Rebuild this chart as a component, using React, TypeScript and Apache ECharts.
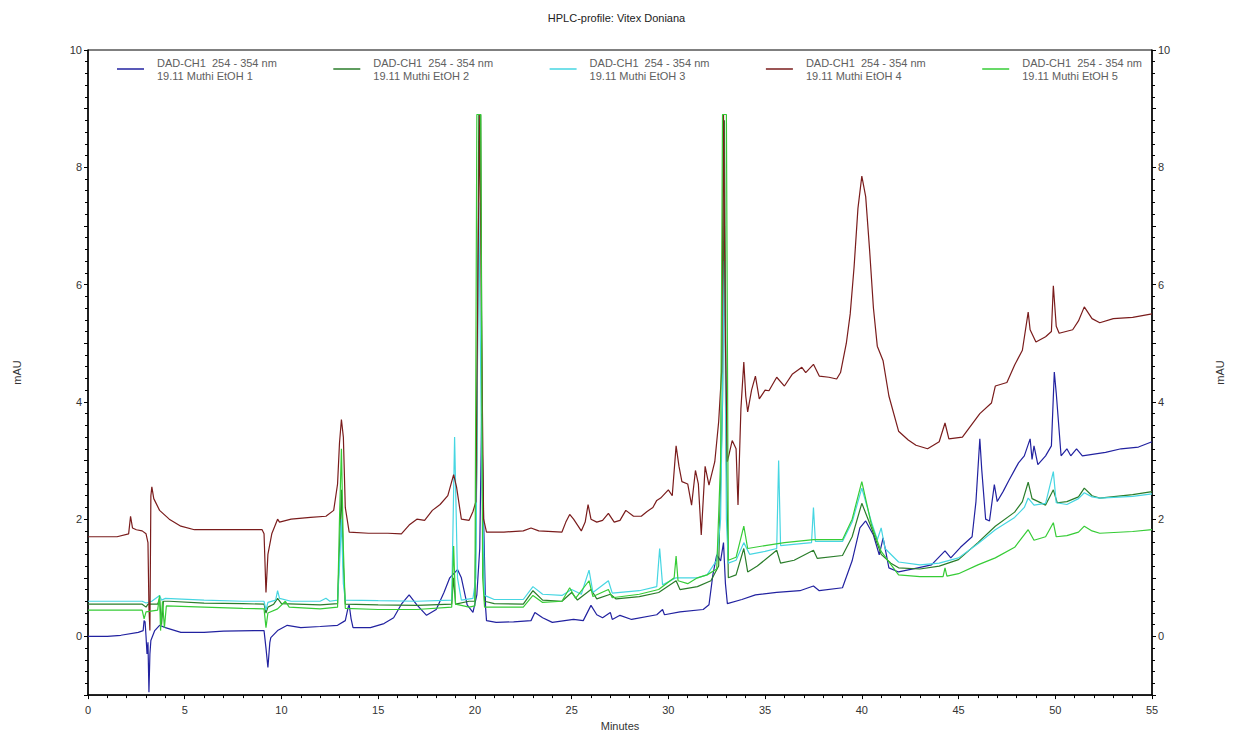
import React, { useEffect, useRef } from "react";
import * as echarts from "echarts";

const TITLE = "HPLC-profile: Vitex Doniana";
const LEGEND_LINE1 = "DAD-CH1  254 - 354 nm";
const seriesNames = [
  "19.11 Muthi EtOH 1",
  "19.11 Muthi EtOH 2",
  "19.11 Muthi EtOH 3",
  "19.11 Muthi EtOH 4",
  "19.11 Muthi EtOH 5",
];
const seriesColors = ["#2222a0", "#2a7d2a", "#46d6e2", "#7a1c1c", "#36cc36"];
const xTicks = [0, 5, 10, 15, 20, 25, 30, 35, 40, 45, 50, 55];
const yTicks = [0, 2, 4, 6, 8, 10];

// [minutes, mAU]
const ethanol1: [number, number][] = [
  [0, 0.0], [1.0, 0.0], [1.7, 0.02], [2.6, 0.07], [2.85, 0.1], [2.9, 0.27], [2.95, 0.25], [3.0, 0.0], [3.05, -0.3], [3.1, -0.1],
  [3.15, -0.95], [3.2, -0.3], [3.25, -0.07], [3.45, 0.1], [3.7, 0.19], [4.0, 0.15], [4.8, 0.07], [6.0, 0.07], [7.0, 0.09], [8.6, 0.1],
  [9.1, 0.1], [9.2, -0.2], [9.3, -0.53], [9.4, -0.1], [9.45, -0.02], [9.8, 0.1], [10.3, 0.19], [11.0, 0.15], [12.0, 0.17], [12.9, 0.19],
  [13.3, 0.27], [13.45, 0.5], [13.5, 0.54], [13.6, 0.3], [13.7, 0.15], [14.6, 0.15], [15.3, 0.22], [15.8, 0.32], [16.2, 0.55], [16.6, 0.71],
  [17.0, 0.54], [17.5, 0.36], [18.0, 0.46], [18.4, 0.75], [18.7, 1.0], [19.1, 1.14], [19.3, 1.0], [19.6, 0.54], [19.9, 0.41], [20.1, 0.71],
  [20.25, 1.5], [20.35, 3.8], [20.45, 2.0], [20.55, 0.5], [20.6, 0.27], [21.1, 0.24], [22.0, 0.25], [22.9, 0.27], [23.1, 0.41], [23.5, 0.32],
  [24.0, 0.24], [25.1, 0.29], [25.6, 0.27], [26.0, 0.53], [26.3, 0.37], [26.6, 0.32], [27.0, 0.41], [27.1, 0.29], [27.5, 0.36], [28.1, 0.29],
  [29.4, 0.37], [29.7, 0.46], [29.8, 0.37], [30.6, 0.42], [31.8, 0.46], [32.1, 0.54], [32.3, 1.05], [32.5, 1.39], [32.7, 1.29], [32.85, 1.6],
  [32.95, 0.9], [33.05, 0.56], [33.8, 0.63], [34.5, 0.71], [35.6, 0.75], [36.8, 0.78], [37.5, 0.86], [37.8, 0.78], [39.0, 0.83], [39.5, 1.29],
  [39.9, 1.85], [40.2, 1.97], [40.6, 1.73], [40.9, 1.39], [41.1, 1.68], [41.4, 1.17], [41.9, 1.1], [42.9, 1.17], [43.6, 1.22], [44.3, 1.46],
  [44.6, 1.34], [45.1, 1.52], [45.7, 1.7], [45.9, 2.3], [46.1, 3.37], [46.2, 2.84], [46.4, 2.0], [46.6, 1.97], [46.85, 2.59], [47.0, 2.3],
  [47.3, 2.47], [47.6, 2.66], [47.9, 2.84], [48.1, 2.96], [48.4, 3.08], [48.7, 3.37], [48.8, 3.02], [48.9, 3.25], [49.1, 2.93], [49.5, 3.08],
  [49.8, 3.25], [49.95, 4.51], [50.05, 4.15], [50.3, 3.08], [50.6, 3.2], [50.8, 3.08], [51.1, 3.2], [51.4, 3.08], [52.6, 3.14], [53.4, 3.2],
  [54.3, 3.23], [55, 3.32],
];

const ethanol2: [number, number][] = [
  [0, 0.55], [2.8, 0.55], [3.0, 0.5], [3.1, 0.55], [3.6, 0.55], [3.7, 0.65], [3.8, 0.2], [3.9, 0.6], [4.2, 0.6], [6, 0.57],
  [8, 0.56], [9.1, 0.55], [9.2, 0.4], [9.3, 0.5], [9.6, 0.55], [9.8, 0.65], [10.0, 0.56], [12.0, 0.54], [12.9, 0.56], [13.0, 1.5],
  [13.1, 2.5], [13.2, 1.2], [13.3, 0.55], [15, 0.54], [17, 0.53], [18.8, 0.55], [18.9, 1.0], [19.0, 0.55], [19.7, 0.6], [20.0, 0.6],
  [20.1, 3.0], [20.2, 8.9], [20.3, 8.9], [20.4, 2.0], [20.5, 0.6], [21, 0.56], [22.5, 0.55], [23.0, 0.78], [23.5, 0.62], [24.5, 0.6],
  [25.0, 0.75], [25.3, 0.62], [26.0, 0.8], [26.3, 0.64], [27.0, 0.72], [27.3, 0.64], [28.5, 0.68], [29.5, 0.75], [30.4, 0.95], [30.6, 0.8],
  [31.5, 0.85], [32.2, 0.95], [32.6, 1.2], [32.8, 4.0], [32.9, 8.8], [33.0, 3.0], [33.1, 1.0], [33.5, 1.05], [33.9, 1.5], [34.1, 1.1],
  [34.6, 1.2], [35.6, 1.47], [35.8, 1.25], [36.5, 1.3], [37.5, 1.47], [37.7, 1.33], [39.0, 1.38], [39.5, 1.7], [40.0, 2.27], [40.5, 1.85],
  [41.0, 1.4], [41.5, 1.25], [41.9, 1.17], [43, 1.15], [44, 1.2], [45, 1.31], [46, 1.6], [46.9, 1.88], [47.9, 2.12], [48.3, 2.3],
  [48.6, 2.63], [48.8, 2.35], [49.5, 2.24], [49.9, 2.5], [50.1, 2.28], [50.6, 2.3], [51.2, 2.38], [51.5, 2.53], [51.9, 2.4], [52.3, 2.36],
  [54, 2.42], [55, 2.47],
];

const ethanol3: [number, number][] = [
  [0, 0.6], [2.8, 0.6], [3.0, 0.57], [3.3, 0.6], [3.7, 0.7], [3.8, 0.62], [4.0, 0.65], [6, 0.62], [8, 0.6], [9.1, 0.6],
  [9.2, 0.45], [9.3, 0.58], [9.7, 0.62], [9.8, 0.78], [9.9, 0.65], [10.5, 0.6], [12.0, 0.6], [12.3, 0.65], [12.5, 0.6], [12.9, 0.62],
  [13.0, 1.2], [13.1, 2.0], [13.2, 0.9], [13.3, 0.62], [15, 0.61], [17, 0.6], [18.8, 0.62], [18.95, 3.4], [19.1, 1.0], [19.3, 0.62],
  [19.9, 0.65], [20.05, 1.0], [20.2, 7.4], [20.35, 3.0], [20.5, 0.7], [21, 0.63], [22.5, 0.63], [23.0, 0.85], [23.5, 0.72], [24.5, 0.7],
  [25.0, 0.8], [25.5, 0.72], [25.9, 1.13], [26.1, 0.75], [26.9, 0.95], [27.1, 0.74], [28.5, 0.78], [29.4, 0.85], [29.55, 1.5], [29.7, 0.88],
  [30.4, 1.0], [31.5, 1.0], [32.0, 1.05], [32.5, 1.3], [32.7, 2.0], [32.9, 6.4], [33.0, 2.0], [33.1, 1.25], [33.5, 1.3], [33.9, 1.6],
  [34.2, 1.4], [35.0, 1.45], [35.6, 1.5], [35.7, 3.0], [35.8, 1.55], [37.4, 1.6], [37.5, 2.2], [37.6, 1.62], [39.0, 1.62], [39.5, 1.95],
  [40.0, 2.53], [40.5, 1.95], [40.8, 1.65], [41.0, 1.85], [41.2, 1.5], [41.9, 1.27], [43, 1.22], [44, 1.25], [45, 1.34], [46, 1.58],
  [46.9, 1.82], [47.9, 2.03], [48.4, 2.2], [48.6, 2.36], [48.9, 2.24], [49.5, 2.27], [49.9, 2.81], [50.05, 2.28], [50.6, 2.25], [51.2, 2.35],
  [51.5, 2.45], [51.9, 2.38], [52.3, 2.36], [54, 2.39], [55, 2.43],
];

const ethanol4: [number, number][] = [
  [0, 1.7], [1.5, 1.7], [2.1, 1.75], [2.2, 2.05], [2.3, 1.85], [2.5, 1.82], [2.8, 1.8], [3.0, 1.75], [3.1, 1.6], [3.15, 0.5],
  [3.2, 0.1], [3.25, 2.4], [3.3, 2.55], [3.4, 2.35], [3.7, 2.15], [4.2, 2.0], [4.8, 1.88], [5.5, 1.82], [6.5, 1.82], [8.0, 1.82],
  [9.0, 1.82], [9.1, 1.75], [9.2, 0.75], [9.3, 1.4], [9.5, 1.75], [9.8, 2.0], [9.9, 1.95], [10.5, 2.0], [11.5, 2.03], [12.3, 2.05],
  [12.7, 2.15], [12.9, 2.6], [13.0, 3.3], [13.1, 3.7], [13.2, 3.4], [13.3, 2.2], [13.5, 1.78], [14.5, 1.76], [15.5, 1.76], [16.2, 1.75],
  [16.6, 1.9], [17.0, 2.0], [17.4, 1.98], [17.8, 2.15], [18.2, 2.25], [18.6, 2.4], [18.9, 2.76], [19.05, 2.55], [19.3, 2.0], [19.7, 1.98],
  [19.9, 2.13], [20.05, 2.3], [20.15, 6.0], [20.25, 8.9], [20.35, 5.0], [20.45, 2.0], [20.6, 1.78], [21.5, 1.78], [22.5, 1.8], [22.9, 1.85],
  [23.3, 1.8], [24.5, 1.78], [24.7, 1.95], [24.9, 2.08], [25.1, 2.0], [25.5, 1.8], [25.7, 1.95], [25.85, 2.25], [26.0, 2.0], [26.3, 1.95],
  [26.6, 1.98], [26.9, 2.1], [27.2, 1.95], [27.5, 1.98], [27.8, 2.15], [28.2, 2.05], [28.6, 2.05], [28.9, 2.13], [29.2, 2.2], [29.4, 2.32],
  [29.6, 2.36], [30.0, 2.5], [30.2, 2.4], [30.4, 3.25], [30.55, 2.9], [30.7, 2.64], [31.0, 2.6], [31.2, 2.24], [31.4, 2.83], [31.55, 2.6],
  [31.7, 1.73], [31.9, 2.9], [32.1, 2.58], [32.4, 2.98], [32.6, 3.66], [32.75, 4.5], [32.85, 8.9], [32.95, 5.0], [33.05, 2.98], [33.3, 3.34],
  [33.5, 3.2], [33.6, 2.24], [33.75, 3.88], [33.9, 4.68], [34.0, 4.1], [34.1, 3.83], [34.3, 4.2], [34.5, 4.44], [34.7, 4.05], [35.0, 4.2],
  [35.2, 4.19], [35.6, 4.42], [36.0, 4.27], [36.4, 4.47], [36.9, 4.59], [37.1, 4.5], [37.5, 4.64], [37.8, 4.44], [38.3, 4.42], [38.7, 4.39],
  [38.9, 4.5], [39.2, 5.0], [39.4, 5.5], [39.6, 6.3], [39.8, 7.3], [40.0, 7.85], [40.2, 7.5], [40.4, 6.6], [40.6, 5.6], [40.8, 4.95],
  [41.1, 4.7], [41.4, 4.1], [41.9, 3.5], [42.4, 3.35], [42.8, 3.26], [43.4, 3.2], [44.0, 3.32], [44.3, 3.64], [44.5, 3.37], [45.2, 3.4],
  [46.1, 3.8], [46.7, 3.98], [46.9, 4.27], [47.5, 4.33], [47.9, 4.63], [48.3, 4.88], [48.6, 5.53], [48.7, 5.23], [49.0, 5.02], [49.5, 5.11],
  [49.8, 5.2], [49.9, 5.98], [50.05, 5.29], [50.2, 5.17], [50.9, 5.23], [51.2, 5.38], [51.5, 5.62], [51.9, 5.42], [52.3, 5.35], [53.0, 5.42],
  [54.0, 5.44], [55, 5.5],
];

const ethanol5: [number, number][] = [
  [0, 0.45], [2.8, 0.45], [2.9, 0.3], [3.0, 0.42], [3.6, 0.45], [3.7, 0.7], [3.75, 0.1], [3.85, 0.6], [3.95, 0.15], [4.05, 0.52],
  [6, 0.5], [8, 0.48], [9.1, 0.47], [9.2, 0.15], [9.3, 0.4], [9.8, 0.47], [10.2, 0.6], [10.4, 0.5], [12, 0.47], [12.9, 0.5],
  [13.0, 2.0], [13.1, 3.2], [13.2, 1.5], [13.3, 0.48], [15, 0.46], [17, 0.46], [18.8, 0.5], [18.9, 1.54], [19.0, 0.55], [19.7, 0.5],
  [20.0, 0.52], [20.1, 8.9], [20.3, 8.9], [20.4, 1.0], [20.5, 0.5], [21, 0.5], [22.5, 0.5], [23.0, 0.7], [23.5, 0.58], [24.5, 0.6],
  [24.9, 0.83], [25.2, 0.65], [25.9, 0.95], [26.1, 0.68], [26.9, 0.8], [27.1, 0.66], [28.5, 0.72], [29.5, 0.8], [30.3, 1.0], [30.4, 1.37],
  [30.5, 0.95], [31.0, 0.9], [31.5, 1.0], [32.0, 1.05], [32.5, 1.15], [32.7, 3.0], [32.8, 8.9], [33.0, 8.9], [33.1, 1.3], [33.5, 1.35],
  [33.9, 1.88], [34.1, 1.5], [35.0, 1.55], [36.0, 1.6], [37.5, 1.65], [39.0, 1.65], [39.5, 2.0], [40.0, 2.64], [40.5, 1.9], [41.0, 1.45],
  [41.9, 1.05], [43, 1.02], [44.2, 1.02], [44.3, 1.17], [44.4, 1.03], [45, 1.07], [46, 1.22], [46.9, 1.34], [47.9, 1.52], [48.6, 1.82],
  [48.9, 1.64], [49.5, 1.7], [49.9, 1.94], [50.05, 1.7], [50.6, 1.72], [51.2, 1.78], [51.5, 1.88], [51.9, 1.8], [52.3, 1.76], [54, 1.79],
  [55, 1.82],
];

const traces = [ethanol1, ethanol2, ethanol3, ethanol4, ethanol5];

const FONT = "'Liberation Sans', Arial, sans-serif";

export default function App() {
  const ref = useRef<HTMLDivElement>(null);
  useEffect(() => {
    if (!ref.current) return;
    const chart = echarts.init(ref.current, undefined, { renderer: "svg" });
    const labelStyle = { color: "#333", fontSize: 11, fontFamily: FONT };
    const yAxisBase = (pos: "left" | "right") => ({
      type: "value",
      position: pos,
      min: -1,
      max: 10,
      interval: 1,
      name: "mAU",
      nameLocation: "middle",
      nameRotate: 90,
      nameGap: pos === "left" ? 66 : 62,
      nameTextStyle: { color: "#333", fontSize: 11, fontFamily: FONT },
      axisLine: { show: true, lineStyle: { color: "#000", width: 1.5 } },
      axisTick: { show: true, length: 4, lineStyle: { color: "#000" } },
      minorTick: { show: true, splitNumber: 5, length: 3, lineStyle: { color: "#000" } },
      splitLine: { show: false },
      axisLabel: {
        ...labelStyle,
        margin: 6,
        formatter: (v: number) => (yTicks.includes(v) ? String(v) : ""),
      },
    });
    chart.setOption({
      animation: false,
      backgroundColor: "#fff",
      title: {
        text: TITLE,
        left: "center",
        top: 7,
        textStyle: { color: "#222", fontSize: 11, fontWeight: "normal", fontFamily: FONT },
      },
      legend: seriesNames.map((n, i) => ({
        data: [n],
        left: 112 + i * 216.3,
        top: 51,
        icon: "rect",
        itemWidth: 27,
        itemHeight: 1.5,
        selectedMode: false,
        formatter: (name: string) => `${LEGEND_LINE1}\n${name}`,
        textStyle: {
          color: "#606060",
          fontSize: 11,
          fontFamily: FONT,
          lineHeight: 13,
          padding: [0, 0, 0, 8],
        },
      })),
      grid: {
        left: 88,
        right: 76,
        top: 50,
        bottom: 28,
        show: true,
        borderColor: "#000",
        borderWidth: 1,
      },
      xAxis: {
        type: "value",
        min: 0,
        max: 55,
        interval: 5,
        name: "Minutes",
        nameLocation: "middle",
        nameGap: 24,
        nameTextStyle: { color: "#333", fontSize: 11, fontFamily: FONT },
        axisLine: { show: true, onZero: false, lineStyle: { color: "#000", width: 1.5 } },
        axisTick: { show: true, length: 4, lineStyle: { color: "#000" } },
        minorTick: { show: true, splitNumber: 5, length: 3, lineStyle: { color: "#000" } },
        splitLine: { show: false },
        axisLabel: {
          ...labelStyle,
          margin: 9,
          formatter: (v: number) => (xTicks.includes(v) ? String(v) : ""),
        },
      },
      yAxis: [yAxisBase("left"), yAxisBase("right")],
      series: traces.map((d, i) => ({
        name: seriesNames[i],
        type: "line",
        data: d,
        yAxisIndex: 0,
        symbol: "none",
        showSymbol: false,
        lineStyle: { color: seriesColors[i], width: 1.2 },
        itemStyle: { color: seriesColors[i] },
        z: 2 + i,
      })),
    });
    return () => chart.dispose();
  }, []);
  return (
    <div
      ref={ref}
      style={{ position: "fixed", left: 0, top: 0, width: 1233, height: 736, background: "#fff" }}
    />
  );
}
